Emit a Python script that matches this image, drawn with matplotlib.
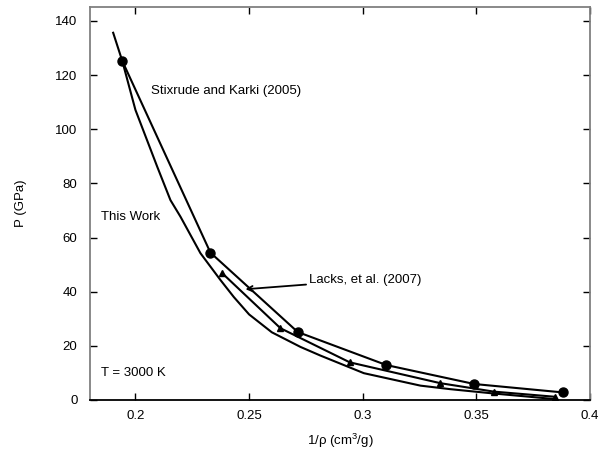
import matplotlib

matplotlib.use("Agg")
import matplotlib.pyplot as plt

plt.rcParams["font.family"] = ["Liberation Sans", "DejaVu Sans"]

# This Work (polyline)
work_v = [0.1902, 0.1942, 0.2000, 0.2096, 0.2154, 0.2198, 0.2286, 0.2374,
          0.2433, 0.2500, 0.2600, 0.2726, 0.2814, 0.3005, 0.3254, 0.3385,
          0.3576, 0.3720, 0.3835]
work_p = [135.6, 125.2, 107.1, 86.1, 73.8, 67.7, 54.2, 44.3,
          38.0, 31.6, 25.0, 19.6, 16.4, 9.9, 5.3, 4.0,
          2.4, 1.3, 0.4]

# Stixrude and Karki (2005)
sk_v = [0.1942, 0.2330, 0.2714, 0.3104, 0.3491, 0.3880]
sk_p = [125.2, 54.4, 25.1, 12.9, 5.9, 2.8]

# Lacks et al. (2007)
lacks_v = [0.2382, 0.2638, 0.2943, 0.3342, 0.3576, 0.3844]
lacks_p = [46.8, 26.5, 13.9, 6.2, 3.1, 1.2]

fig = plt.figure(figsize=(6.13, 4.51), dpi=100)
ax = fig.add_axes([0.1468, 0.1131, 0.8157, 0.8707])

ax.plot(work_v, work_p, color="black", lw=1.5)
ax.plot(sk_v, sk_p, color="black", lw=1.5, marker="o", markersize=6.5)
ax.plot(lacks_v, lacks_p, color="black", lw=1.5, marker="^", markersize=4.5)

ax.set_xlim(0.18, 0.4)
ax.set_ylim(0, 145)
ax.set_xticks([0.2, 0.25, 0.3, 0.35, 0.4])
ax.set_xticklabels(["0.2", "0.25", "0.3", "0.35", "0.4"])
ax.set_yticks(range(0, 141, 20))
ax.tick_params(direction="in", top=True, right=True, length=5, width=1,
               labelsize=9.5, colors="black")
ax.tick_params(axis="x", pad=7)
ax.tick_params(axis="y", pad=9)
for side in ("left", "top", "right"):
    ax.spines[side].set_color("#808080")
    ax.spines[side].set_linewidth(1.3)
ax.spines["bottom"].set_color("black")
ax.spines["bottom"].set_linewidth(1.3)

ax.set_xlabel(r"1/$\mathregular{\rho}$ (cm$^{\mathregular{3}}$/g)", fontsize=9.5, labelpad=7)
ax.set_ylabel("P (GPa)", fontsize=9.5, labelpad=20)

ax.text(0.207, 114.2, "Stixrude and Karki (2005)", fontsize=9.5, va="center")
ax.text(0.1847, 67.7, "This Work", fontsize=9.5, va="center")
ax.text(0.1847, 9.8, "T = 3000 K", fontsize=9.5, va="center")
ax.annotate("Lacks, et al. (2007)", xy=(0.2484, 40.9), xytext=(0.2763, 44.3),
            fontsize=9.5, va="center",
            arrowprops=dict(arrowstyle="->", color="black", lw=1.3,
                            shrinkA=0, shrinkB=0))

fig.savefig("out.png", dpi=100)
